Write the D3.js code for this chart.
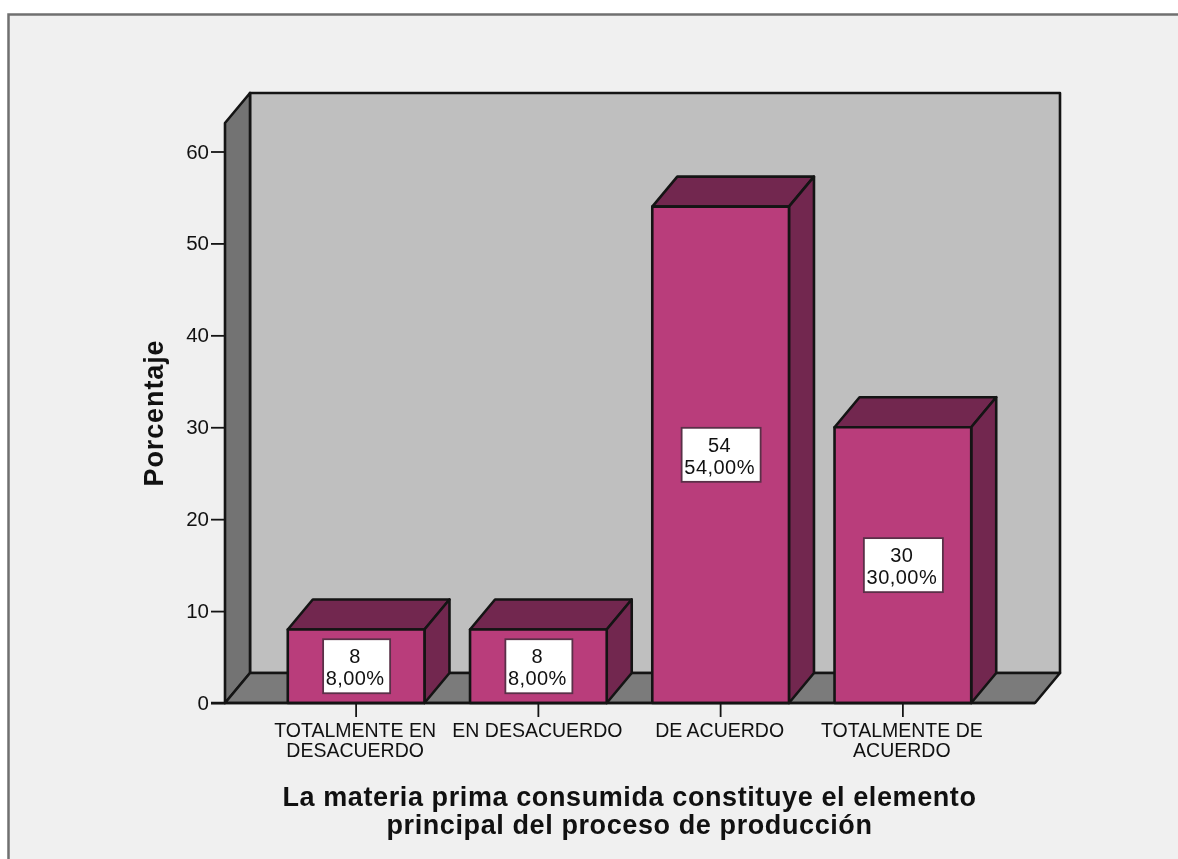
<!DOCTYPE html>
<html><head><meta charset="utf-8">
<script src="https://cdn.jsdelivr.net/npm/d3@7"></script>
<style>html,body{margin:0;padding:0;background:#fff;overflow:hidden}svg{display:block;filter:blur(.45px)}text{font-family:"Liberation Sans",Arial,sans-serif;fill:#111}</style>
</head><body><svg id="c" width="1178" height="859"></svg>
<script>
const categories=[["TOTALMENTE EN","DESACUERDO"],["EN DESACUERDO"],["DE ACUERDO"],["TOTALMENTE DE","ACUERDO"]];
const counts=[8,8,54,30];
const percents=["8,00%","8,00%","54,00%","30,00%"];
const yTicks=[0,10,20,30,40,50,60];
const xTitle=["La materia prima consumida constituye el elemento","principal del proceso de producción"];
const yTitle="Porcentaje";

const svg=d3.select("#c");
const y=d3.scaleLinear().domain([0,60]).range([703,151.5]);
const x=d3.scaleBand().domain(d3.range(categories.length)).range([265,994]).paddingInner(.25).paddingOuter(.125);
const dx=25,dy=30,L=225,R=1035,B=703,T=123;
const ink="#141414";
const poly=(pts,fill,w=2.6)=>svg.append("polygon").attr("points",pts.map(p=>p.join(",")).join(" ")).attr("fill",fill).attr("stroke",ink).attr("stroke-width",w).attr("stroke-linejoin","round");

// frame
svg.append("rect").attr("x",8.5).attr("y",14.5).attr("width",1200).attr("height",900).attr("fill","#f0f0f0").attr("stroke","#707070").attr("stroke-width",2.5);

// walls
poly([[L+dx,T-dy],[R+dx,T-dy],[R+dx,B-dy],[L+dx,B-dy]],"#bfbfbf");
poly([[L,T],[L+dx,T-dy],[L+dx,B-dy],[L,B]],"#737373");
poly([[L,B],[L+dx,B-dy],[R+dx,B-dy],[R,B]],"#7b7b7b");

// y axis
const gy=svg.append("g").attr("transform",`translate(${L},0)`).call(d3.axisLeft(y).tickValues(yTicks).tickSize(14).tickPadding(2).tickFormat(d3.format("d")));
gy.select(".domain").remove();
gy.selectAll("line").attr("stroke",ink).attr("stroke-width",1.8);
gy.selectAll("text").attr("font-size",20.5).attr("fill","#111");

// bars
categories.forEach((_,i)=>{
  const x0=x(i),x1=x0+x.bandwidth(),yt=y(counts[i]);
  poly([[x0,yt],[x0+dx,yt-dy],[x1+dx,yt-dy],[x1,yt]],"#72274f");
  poly([[x1,yt],[x1+dx,yt-dy],[x1+dx,B-dy],[x1,B]],"#72274f");
  poly([[x0,yt],[x1,yt],[x1,B],[x0,B]],"#b93d7b");
  const cx=(x0+x1)/2, cy=(yt+B)/2;
  const w=i<2?67:79;
  svg.append("rect").attr("x",cx-w/2+.5).attr("y",cy-27).attr("width",w).attr("height",54).attr("fill","#fff").attr("stroke","#5a3048").attr("stroke-width",1.8);
  svg.append("text").attr("x",cx-1).attr("y",cy-3).attr("text-anchor","middle").attr("font-size",20).attr("letter-spacing",.45).text(counts[i]);
  svg.append("text").attr("x",cx-1).attr("y",cy+19).attr("text-anchor","middle").attr("font-size",20).attr("letter-spacing",.45).text(percents[i]);
});

// floor line over the bars' base
svg.append("line").attr("x1",L-14).attr("x2",R).attr("y1",B).attr("y2",B).attr("stroke",ink).attr("stroke-width",2.4);

// x axis
const gx=svg.append("g").attr("transform",`translate(0,${B})`).call(d3.axisBottom(x).tickSize(14).tickFormat(""));
gx.select(".domain").remove();
gx.selectAll("line").attr("stroke",ink).attr("stroke-width",1.8);
categories.forEach((c,i)=>c.forEach((s,j)=>{
  svg.append("text").attr("x",x(i)+x.bandwidth()/2-1).attr("y",737+j*20).attr("text-anchor","middle").attr("font-size",19.5).text(s);
}));

// titles
xTitle.forEach((s,j)=>svg.append("text").attr("x",629.5).attr("y",806+j*28).attr("text-anchor","middle").attr("font-size",27).attr("letter-spacing",.6).attr("font-weight","bold").text(s));
svg.append("text").attr("transform","translate(163,413) rotate(-90)").attr("text-anchor","middle").attr("font-size",27).attr("letter-spacing",.9).attr("font-weight","bold").text(yTitle);
</script></body></html>
